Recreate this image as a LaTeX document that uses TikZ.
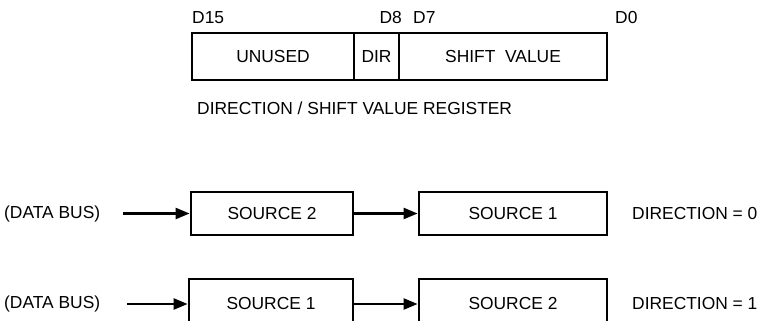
\documentclass[tikz,border=0pt]{standalone}
\usepackage{fontspec}
\setmainfont{Liberation Sans}
\usetikzlibrary{arrows.meta,positioning}

\begin{document}
\begin{tikzpicture}[x=1pt,y=-1pt,
  every node/.style={font=\fontsize{17.4}{20}\selectfont},
  field/.style={draw,line width=2.8pt,inner sep=0pt,minimum height=47pt},
  srcbox/.style={draw,line width=2.8pt,inner sep=0pt},
  flow/.style={line width=2.4pt,-{Triangle[length=14pt,width=11pt]}}]
  \useasboundingbox (0,0) rectangle (761,321);
  \clip (0,0) rectangle (761,321);
  % register fields
  \node[field,minimum width=162pt] (unused) at (273,56.5) {UNUSED};
  \node[field,minimum width=45pt] (dir) at (376.5,56.5) {DIR};
  \node[field,minimum width=208pt] (shift) at (503,56.5) {SHIFT~ VALUE};
  % bit numbers
  \node[anchor=west,inner sep=0pt] (d15) at (192,18) {D15};
  \node[anchor=east,inner sep=0pt] (d8) at (402,18) {D8};
  \node[anchor=west,inner sep=0pt] (d7) at (413,18) {D7};
  \node[anchor=west,inner sep=0pt] (d0) at (615,18) {D0};
  \node[anchor=west,inner sep=0pt] (reglabel) at (197,108) {DIRECTION / SHIFT VALUE REGISTER};

  % direction = 0
  \node[anchor=west,inner sep=0pt] (bus1) at (4,213.5) {(DATA BUS)};
  \coordinate (in1) at (123,213.5);
  \node[srcbox,minimum width=162pt,minimum height=43pt] (srcA1) at (272,213.5) {SOURCE 2};
  \node[srcbox,minimum width=188pt,minimum height=43pt] (srcB1) at (513,213.5) {SOURCE 1};
  \node[anchor=west,inner sep=0pt] (dir0) at (632,213.5) {DIRECTION = 0};
  \draw[flow] (in1) -- (srcA1.west);
  \draw[flow] (srcA1.east) -- (srcB1.west);

  % direction = 1
  \node[anchor=west,inner sep=0pt] (bus2) at (4,304) {(DATA BUS)};
  \coordinate (in2) at (127,304);
  \node[srcbox,minimum width=164pt,minimum height=50pt] (srcA2) at (271,304) {SOURCE 1};
  \node[srcbox,minimum width=188pt,minimum height=50pt] (srcB2) at (513,304) {SOURCE 2};
  \node[anchor=west,inner sep=0pt] (dir1) at (632,304) {DIRECTION = 1};
  \draw[flow] (in2) -- (srcA2.west);
  \draw[flow] (srcA2.east) -- (srcB2.west);
\end{tikzpicture}
\end{document}
